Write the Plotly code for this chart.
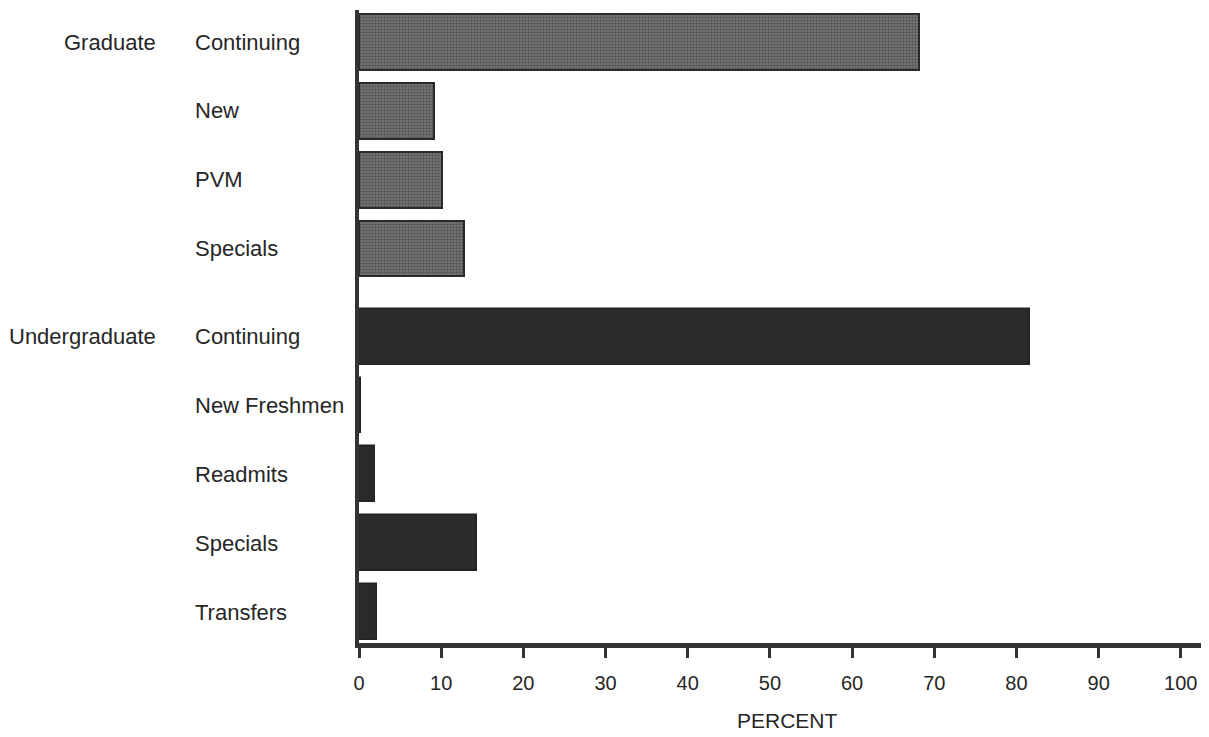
import plotly.graph_objects as go

groups = ["Graduate", "Undergraduate"]
grad_labels = ["Continuing", "New", "PVM", "Specials"]
grad_values = [68.2, 9.1, 10.1, 12.8]
ug_labels = ["Continuing", "New Freshmen", "Readmits", "Specials", "Transfers"]
ug_values = [81.7, 0.3, 2.0, 14.3, 2.2]
x_ticks = [0, 10, 20, 30, 40, 50, 60, 70, 80, 90, 100]
x_title = "PERCENT"

gap = 1.28
grad_pos = list(range(len(grad_labels)))
ug_pos = [len(grad_labels) - 1 + gap + i for i in range(len(ug_labels))]

FONT = "Liberation Sans, Arial, sans-serif"
TXT = "#262626"
fig = go.Figure()
fig.add_trace(go.Bar(
    x=grad_values, y=grad_pos, orientation="h", width=0.81,
    marker=dict(color="#5e5e5e",
                pattern=dict(shape=".", fgcolor="#2a2a2a", bgcolor="#7c7c7c", size=3, solidity=0.5),
                line=dict(color="#2a2a2a", width=2)),
    showlegend=False, hoverinfo="x"))
fig.add_trace(go.Bar(
    x=ug_values, y=ug_pos, orientation="h", width=0.81,
    marker=dict(color="#2a2a2a", line=dict(color="#222", width=1.5)),
    showlegend=False, hoverinfo="x"))

W, H = 1201, 729
L, R, T, B = 351, 6, 2, 94
pw = W - L - R
ph = H - T - B

annotations = []
for lab, p in zip(grad_labels + ug_labels, grad_pos + ug_pos):
    annotations.append(dict(x=-166 / pw, xref="paper", y=p, yref="y", text=lab,
                            showarrow=False, xanchor="left", yanchor="middle",
                            font=dict(size=22, color=TXT, family=FONT)))
for g, p in zip(groups, [grad_pos[0], ug_pos[0]]):
    annotations.append(dict(x=-201 / pw, xref="paper", y=p, yref="y", text=g,
                            showarrow=False, xanchor="right", yanchor="middle",
                            font=dict(size=22, color=TXT, family=FONT)))
annotations.append(dict(x=(787 - 8 - L) / pw, xref="paper", y=-(712 - 635) / ph, yref="paper",
                        text=x_title, showarrow=False, xanchor="center", yanchor="middle",
                        font=dict(size=21, color=TXT, family=FONT)))

top = -0.465
bottom = ug_pos[-1] + 0.45
fig.update_layout(
    width=W, height=H,
    margin=dict(l=L, r=R, t=T, b=B),
    paper_bgcolor="white", plot_bgcolor="white",
    bargap=0,
    annotations=annotations,
    xaxis=dict(range=[0, 102.7], tickvals=x_ticks, ticks="outside", ticklen=10, tickwidth=2.5,
               tickcolor="#333", showline=True, linecolor="#333", linewidth=5,
               showgrid=False, zeroline=False, ticklabelstandoff=8,
               tickfont=dict(size=20, color=TXT, family=FONT)),
    yaxis=dict(range=[bottom, top], showticklabels=False, ticks="", showline=True,
               linecolor="#333", linewidth=4, showgrid=False, zeroline=False),
)
fig.write_html("out.html")
